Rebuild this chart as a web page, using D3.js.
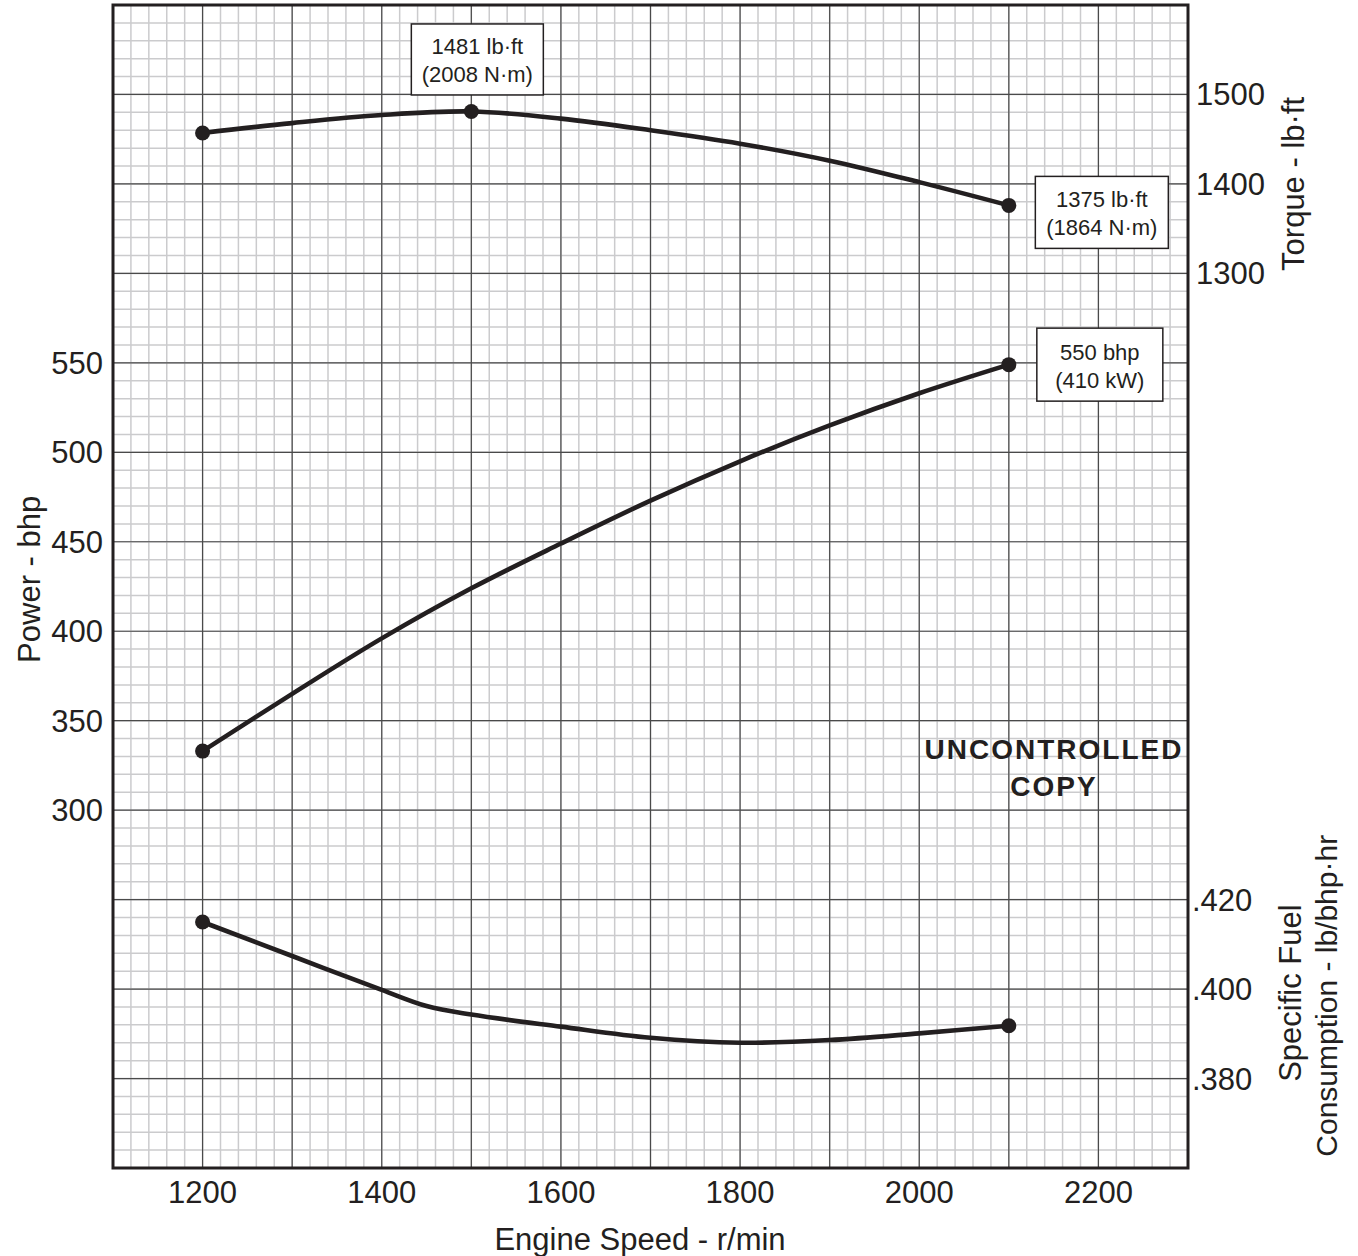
<!DOCTYPE html>
<html>
<head>
<meta charset="utf-8">
<script src="https://cdn.jsdelivr.net/npm/d3@7"></script>
<style>
  body { margin: 0; background: #fff; }
  text { font-family: "Liberation Sans", Arial, sans-serif; fill: #231f20; }
</style>
</head>
<body>
<svg id="chart" width="1358" height="1256"></svg>
<script>
// engine speed points
let torqueRpm = [1200, 1300, 1400, 1500, 1600, 1700, 1800, 1900, 2000, 2100]
let torqueVals = [1457, 1468, 1477, 1481, 1473, 1460, 1445, 1426, 1402, 1376]

let powerRpm = [1200, 1300, 1400, 1500, 1600, 1700, 1800, 1900, 2000, 2100]
let powerVals = [333, 365, 396, 424, 449, 473, 495, 515, 533, 549]

let fuelRpm = [1200, 1300, 1400, 1450, 1500, 1600, 1700, 1800, 1900, 2000, 2100]
let fuelVals = [0.415, 0.4074, 0.3998, 0.3962, 0.3943, 0.3916, 0.3891, 0.3880, 0.3886, 0.3901, 0.3918]

// dots drawn on the curves
let torqueDots = [1200, 1500, 2100]
let powerDots = [1200, 2100]
let fuelDots = [1200, 2100]

let xTicks = [1200, 1400, 1600, 1800, 2000, 2200]
let powerTicks = [300, 350, 400, 450, 500, 550]
let torqueTicks = [1300, 1400, 1500]
let fuelTicks = [0.380, 0.400, 0.420]

let svg = d3.select('#chart')
let pLeft = 113, pRight = 1188, pTop = 5, pBottom = 1168
let ink = '#231f20'

let x = d3.scaleLinear().domain([1100, 2300]).range([pLeft, pRight])
let yPower = d3.scaleLinear().domain([100, 750]).range([pBottom, pTop])
let yTorque = d3.scaleLinear().domain([300, 1600]).range([pBottom, pTop])
let yFuel = d3.scaleLinear().domain([0.360, 0.620]).range([pBottom, pTop])

// graph paper grid, minor first then major
let grid = svg.append('g')
grid.selectAll('.vminor')
    .data(d3.range(1100, 2301, 20))
    .enter().append('line')
    .attr('x1', d => x(d)).attr('x2', d => x(d))
    .attr('y1', pTop).attr('y2', pBottom)
    .attr('stroke', '#cbcbcd').attr('stroke-width', 1.5)
grid.selectAll('.hminor')
    .data(d3.range(100, 751, 10))
    .enter().append('line')
    .attr('y1', d => yPower(d)).attr('y2', d => yPower(d))
    .attr('x1', pLeft).attr('x2', pRight)
    .attr('stroke', '#cbcbcd').attr('stroke-width', 1.5)
grid.selectAll('.vmajor')
    .data(d3.range(1100, 2301, 100))
    .enter().append('line')
    .attr('x1', d => x(d)).attr('x2', d => x(d))
    .attr('y1', pTop).attr('y2', pBottom)
    .attr('stroke', '#4a4a4a').attr('stroke-width', 1.2)
grid.selectAll('.hmajor')
    .data(d3.range(100, 751, 50))
    .enter().append('line')
    .attr('y1', d => yPower(d)).attr('y2', d => yPower(d))
    .attr('x1', pLeft).attr('x2', pRight)
    .attr('stroke', '#4a4a4a').attr('stroke-width', 1.2)

// frame
svg.append('rect')
   .attr('x', pLeft).attr('y', pTop)
   .attr('width', pRight - pLeft).attr('height', pBottom - pTop)
   .attr('fill', 'none').attr('stroke', ink).attr('stroke-width', 3)

// curves
let drawCurve = (rpms, vals, yScale, dots) => {
    let pts = rpms.map((r, i) => [r, vals[i]])
    let line = d3.line()
                 .x(d => x(d[0]))
                 .y(d => yScale(d[1]))
                 .curve(d3.curveCatmullRom.alpha(0.5))
    svg.append('path')
       .attr('d', line(pts))
       .attr('fill', 'none')
       .attr('stroke', ink)
       .attr('stroke-width', 4.6)
    svg.selectAll(null)
       .data(pts.filter(d => dots.includes(d[0])))
       .enter().append('circle')
       .attr('cx', d => x(d[0]))
       .attr('cy', d => yScale(d[1]))
       .attr('r', 7.5)
       .attr('fill', ink)
}
drawCurve(torqueRpm, torqueVals, yTorque, torqueDots)
drawCurve(powerRpm, powerVals, yPower, powerDots)
drawCurve(fuelRpm, fuelVals, yFuel, fuelDots)

// tick labels
let fs = 31
svg.selectAll('.xlab')
   .data(xTicks).enter().append('text')
   .attr('x', d => x(d)).attr('y', 1203)
   .attr('text-anchor', 'middle')
   .attr('font-size', fs)
   .text(d => d)
svg.selectAll('.plab')
   .data(powerTicks).enter().append('text')
   .attr('x', 103).attr('y', d => yPower(d) + 11)
   .attr('text-anchor', 'end')
   .attr('font-size', fs)
   .text(d => d)
svg.selectAll('.tlab')
   .data(torqueTicks).enter().append('text')
   .attr('x', 1196).attr('y', d => yTorque(d) + 11)
   .attr('font-size', fs)
   .text(d => d)
svg.selectAll('.flab')
   .data(fuelTicks).enter().append('text')
   .attr('x', 1192).attr('y', d => yFuel(d) + 11)
   .attr('font-size', fs)
   .text(d => d3.format('.3f')(d).replace(/^0/, ''))

// axis titles
svg.append('text')
   .attr('x', 640).attr('y', 1250)
   .attr('text-anchor', 'middle').attr('font-size', fs)
   .text('Engine Speed - r/min')
svg.append('text')
   .attr('transform', 'translate(40,' + yPower(429) + ') rotate(-90)')
   .attr('text-anchor', 'middle').attr('font-size', fs)
   .text('Power - bhp')
svg.append('text')
   .attr('transform', 'translate(1304,' + yTorque(1400) + ') rotate(-90)')
   .attr('text-anchor', 'middle').attr('font-size', fs)
   .text('Torque  - lb\u00B7ft')
svg.append('text')
   .attr('transform', 'translate(1301,' + yFuel(0.3991) + ') rotate(-90)')
   .attr('text-anchor', 'middle').attr('font-size', fs)
   .text('Specific Fuel')
svg.append('text')
   .attr('transform', 'translate(1337,' + yFuel(0.3985) + ') rotate(-90)')
   .attr('text-anchor', 'middle').attr('font-size', 30)
   .text('Consumption - lb/bhp\u00B7hr')

// value callouts next to the dots
let callout = (cx, cy, w, h, lines) => {
    let g = svg.append('g')
    g.append('rect')
     .attr('x', cx - w / 2).attr('y', cy - h / 2)
     .attr('width', w).attr('height', h)
     .attr('fill', '#fff').attr('stroke', ink).attr('stroke-width', 1.5)
    g.selectAll('text').data(lines).enter().append('text')
     .attr('x', cx).attr('y', (d, i) => cy - 5 + i * 28)
     .attr('text-anchor', 'middle').attr('font-size', 22)
     .text(d => d)
}
callout(x(1500) + 6, yTorque(1481) - 52, 132, 71, ['1481 lb\u00B7ft', '(2008 N\u00B7m)'])
callout(x(2100) + 93, yTorque(1376) + 7, 133, 72, ['1375 lb\u00B7ft', '(1864 N\u00B7m)'])
callout(x(2100) + 91, yPower(549) + 0, 126, 73, ['550 bhp', '(410 kW)'])

// stamp
svg.append('text')
   .attr('x', 1054).attr('y', 759)
   .attr('text-anchor', 'middle').attr('font-size', 28).attr('font-weight', 'bold')
   .attr('letter-spacing', 2)
   .text('UNCONTROLLED')
svg.append('text')
   .attr('x', 1054).attr('y', 796)
   .attr('text-anchor', 'middle').attr('font-size', 28).attr('font-weight', 'bold')
   .attr('letter-spacing', 2)
   .text('COPY')
</script>
</body>
</html>
